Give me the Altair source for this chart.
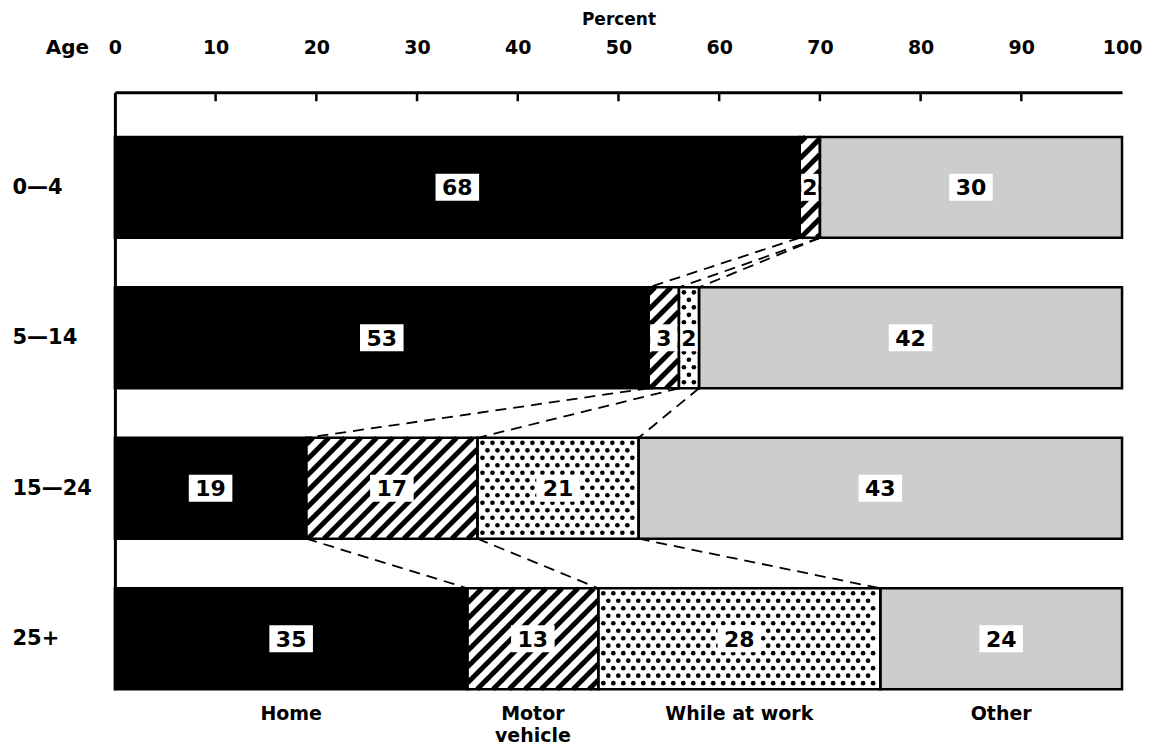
import json
import altair as alt
import pandas as pd

# ---------------- data ----------------
ages = ["0—4", "5—14", "15—24", "25+"]
categories = ["Home", "Motor vehicle", "While at work", "Other"]
cat_labels = ["Home", "Motor\nvehicle", "While at work", "Other"]
# segment widths as drawn in the figure (percent)
home = [68, 53, 19, 35]
motor = [2, 3, 17, 13]
work = [0, 2, 16, 28]
other = [30, 42, 48, 24]
# numbers printed on the segments
home_printed = [68, 53, 19, 35]
motor_printed = [2, 3, 17, 13]
work_printed = [0, 2, 21, 28]
other_printed = [30, 42, 43, 24]
tick_values = list(range(0, 101, 10))

# ---------------- layout constants ----------------
W, H = 1008, 598
Y_MIN, Y_MAX = -0.632, 3.339
XPX = W / 100.0
YPX = H / (Y_MAX - Y_MIN)
HB = 50.5 / YPX            # half bar height in row units
FONT = "DejaVu Sans"

series = [home, motor, work, other]
printed = [home_printed, motor_printed, work_printed, other_printed]
rows = []
cums = []
for i, age in enumerate(ages):
    start = 0
    cum = []
    for cat, vals, pr in zip(categories, series, printed):
        v = vals[i]
        if v > 0:
            rows.append(dict(age=age, row=i, cat=cat, start=start, end=start + v,
                             mid=start + v / 2.0, value=v, label=str(pr[i]),
                             ytop=i - HB, ybot=i + HB))
        start += v
        cum.append(start)
    cums.append(cum)
bars = pd.DataFrame(rows)

# label boxes (white) sized to text, not wider than the segment
box_rows = []
for r in rows:
    n = len(r["label"])
    bw = min(15.3 * n + 13, (r["end"] - r["start"]) * XPX - 3)
    box_rows.append(dict(x0=r["mid"] - bw / 2 / XPX, x1=r["mid"] + bw / 2 / XPX,
                         y0=r["row"] - 13.5 / YPX, y1=r["row"] + 13.5 / YPX))
boxes = pd.DataFrame(box_rows)

# hatch lines for Motor vehicle segments (45 degree "/" lines, clipped)
hatch = []
PERIOD = 16.0
for r in rows:
    if r["cat"] != "Motor vehicle":
        continue
    X0, X1 = r["start"] * XPX, r["end"] * XPX
    Y0, Y1 = (r["ytop"] - Y_MIN) * YPX, (r["ybot"] - Y_MIN) * YPX
    k0 = int((X0 + Y0) // PERIOD) - 1
    k1 = int((X1 + Y1) // PERIOD) + 2
    for k in range(k0, k1):
        c = k * PERIOD
        ya = max(Y0, c - X1)
        yb = min(Y1, c - X0)
        if yb - ya > 1.0:
            hatch.append(dict(x=(c - ya) / XPX, x2=(c - yb) / XPX,
                              y=ya / YPX + Y_MIN, y2=yb / YPX + Y_MIN))
hatch = pd.DataFrame(hatch)

# dot pattern for While at work segments
dots = []
for r in rows:
    if r["cat"] != "While at work":
        continue
    X0, X1 = r["start"] * XPX, r["end"] * XPX
    Y0, Y1 = (r["ytop"] - Y_MIN) * YPX, (r["ybot"] - Y_MIN) * YPX
    yy = Y0 + 5
    j = 0
    while yy <= Y1 - 4:
        xx = X0 + (5 if j % 2 == 0 else 10)
        while xx <= X1 - 4:
            dots.append(dict(x=xx / XPX, y=yy / YPX + Y_MIN))
            xx += 10
        yy += 7.5
        j += 1
dots = pd.DataFrame(dots)

# connectors between consecutive bars
conn = []
for i in range(len(ages) - 1):
    for k in range(3):
        conn.append(dict(x=cums[i][k], x2=cums[i + 1][k],
                         y=i + HB, y2=i + 1 - HB))
conn = pd.DataFrame(conn)

# bottom category labels under the last bar
last = len(ages) - 1
bottom = pd.DataFrame([dict(x=r["mid"], y=r["ybot"], text=cat_labels[categories.index(r["cat"])])
                       for r in rows if r["row"] == last])

ticks = pd.DataFrame({"t": tick_values[1:-1]})

xscale = alt.Scale(domain=[0, 100], nice=False, zero=False)
yscale = alt.Scale(domain=[Y_MIN, Y_MAX], reverse=True, nice=False, zero=False)

label_expr = json.dumps(ages) + "[datum.value]"

x_axis = alt.Axis(orient="top", values=tick_values, ticks=False, grid=False,
                  domainWidth=3, domainColor="black", labelFlush=False,
                  labelFont=FONT, labelFontSize=19, labelFontWeight="bold",
                  labelColor="black", labelPadding=35, format="d",
                  title="Percent", titleFont=FONT, titleFontSize=17,
                  titleFontWeight="bold", titleColor="black", titlePadding=10)
y_axis = alt.Axis(orient="left", values=[0, 1, 2, 3], labelExpr=label_expr,
                  ticks=False, grid=False, domainWidth=3, domainColor="black",
                  labelAlign="left", labelBaseline="middle", labelPadding=103,
                  labelFont=FONT, labelFontSize=21, labelFontWeight="bold",
                  labelColor="black",
                  title="Age", titleAngle=0, titleX=-48, titleY=-45,
                  titleAlign="center", titleBaseline="middle",
                  titleFont=FONT, titleFontSize=20, titleFontWeight="bold",
                  titleColor="black")


def X(field):
    return alt.X(field, scale=xscale, axis=x_axis)


def Y(field):
    return alt.Y(field, scale=yscale, axis=y_axis)


fill_scale = alt.Scale(domain=categories, range=["#000000", "#ffffff", "#ffffff", "#cdcdcd"])

base_fill = alt.Chart(bars).mark_rect(strokeWidth=0).encode(
    x=X("start:Q"), x2="end:Q",
    y=Y("ytop:Q"), y2="ybot:Q",
    fill=alt.Fill("cat:N", scale=fill_scale, legend=None),
)

hatch_layer = alt.Chart(hatch).mark_rule(color="black", strokeWidth=5, strokeCap="butt").encode(
    x=X("x:Q"), x2="x2:Q", y=Y("y:Q"), y2="y2:Q",
)

dot_layer = alt.Chart(dots).mark_circle(color="black", opacity=1, size=22).encode(
    x=X("x:Q"), y=Y("y:Q"),
)

outline = alt.Chart(bars).mark_rect(fill=None, stroke="black", strokeWidth=2.5).encode(
    x=X("start:Q"), x2="end:Q", y=Y("ytop:Q"), y2="ybot:Q",
)

box_layer = alt.Chart(boxes).mark_rect(fill="white", strokeWidth=0).encode(
    x=X("x0:Q"), x2="x1:Q", y=Y("y0:Q"), y2="y1:Q",
)

text_layer = alt.Chart(bars).mark_text(font=FONT, fontSize=22, fontWeight="bold",
                                       color="black", baseline="middle", align="center", dy=1).encode(
    x=X("mid:Q"), y=Y("row:Q"), text="label:N",
)

conn_layer = alt.Chart(conn).mark_rule(color="black", strokeWidth=1.8, strokeDash=[11, 7]).encode(
    x=X("x:Q"), x2="x2:Q", y=Y("y:Q"), y2="y2:Q",
)

tick_layer = alt.Chart(ticks).mark_rule(color="black", strokeWidth=2.5).encode(
    x=X("t:Q"), y=alt.value(0), y2=alt.value(9),
)

bottom_layer = alt.Chart(bottom).mark_text(font=FONT, fontSize=19, fontWeight="bold",
                                           color="black", baseline="top", align="center",
                                           dy=16, lineBreak="\n", lineHeight=22).encode(
    x=X("x:Q"), y=Y("y:Q"), text="text:N",
)

chart = alt.layer(base_fill, hatch_layer, dot_layer, outline, box_layer, text_layer,
                  conn_layer, tick_layer, bottom_layer).properties(
    width=W, height=H,
    autosize=alt.AutoSizeParams(type="none"),
    padding={"left": 107, "top": 84, "right": 30, "bottom": 58},
    background="white",
).configure_view(stroke=None)

chart.save("out.html", embed_options={"renderer": "svg", "actions": False})
